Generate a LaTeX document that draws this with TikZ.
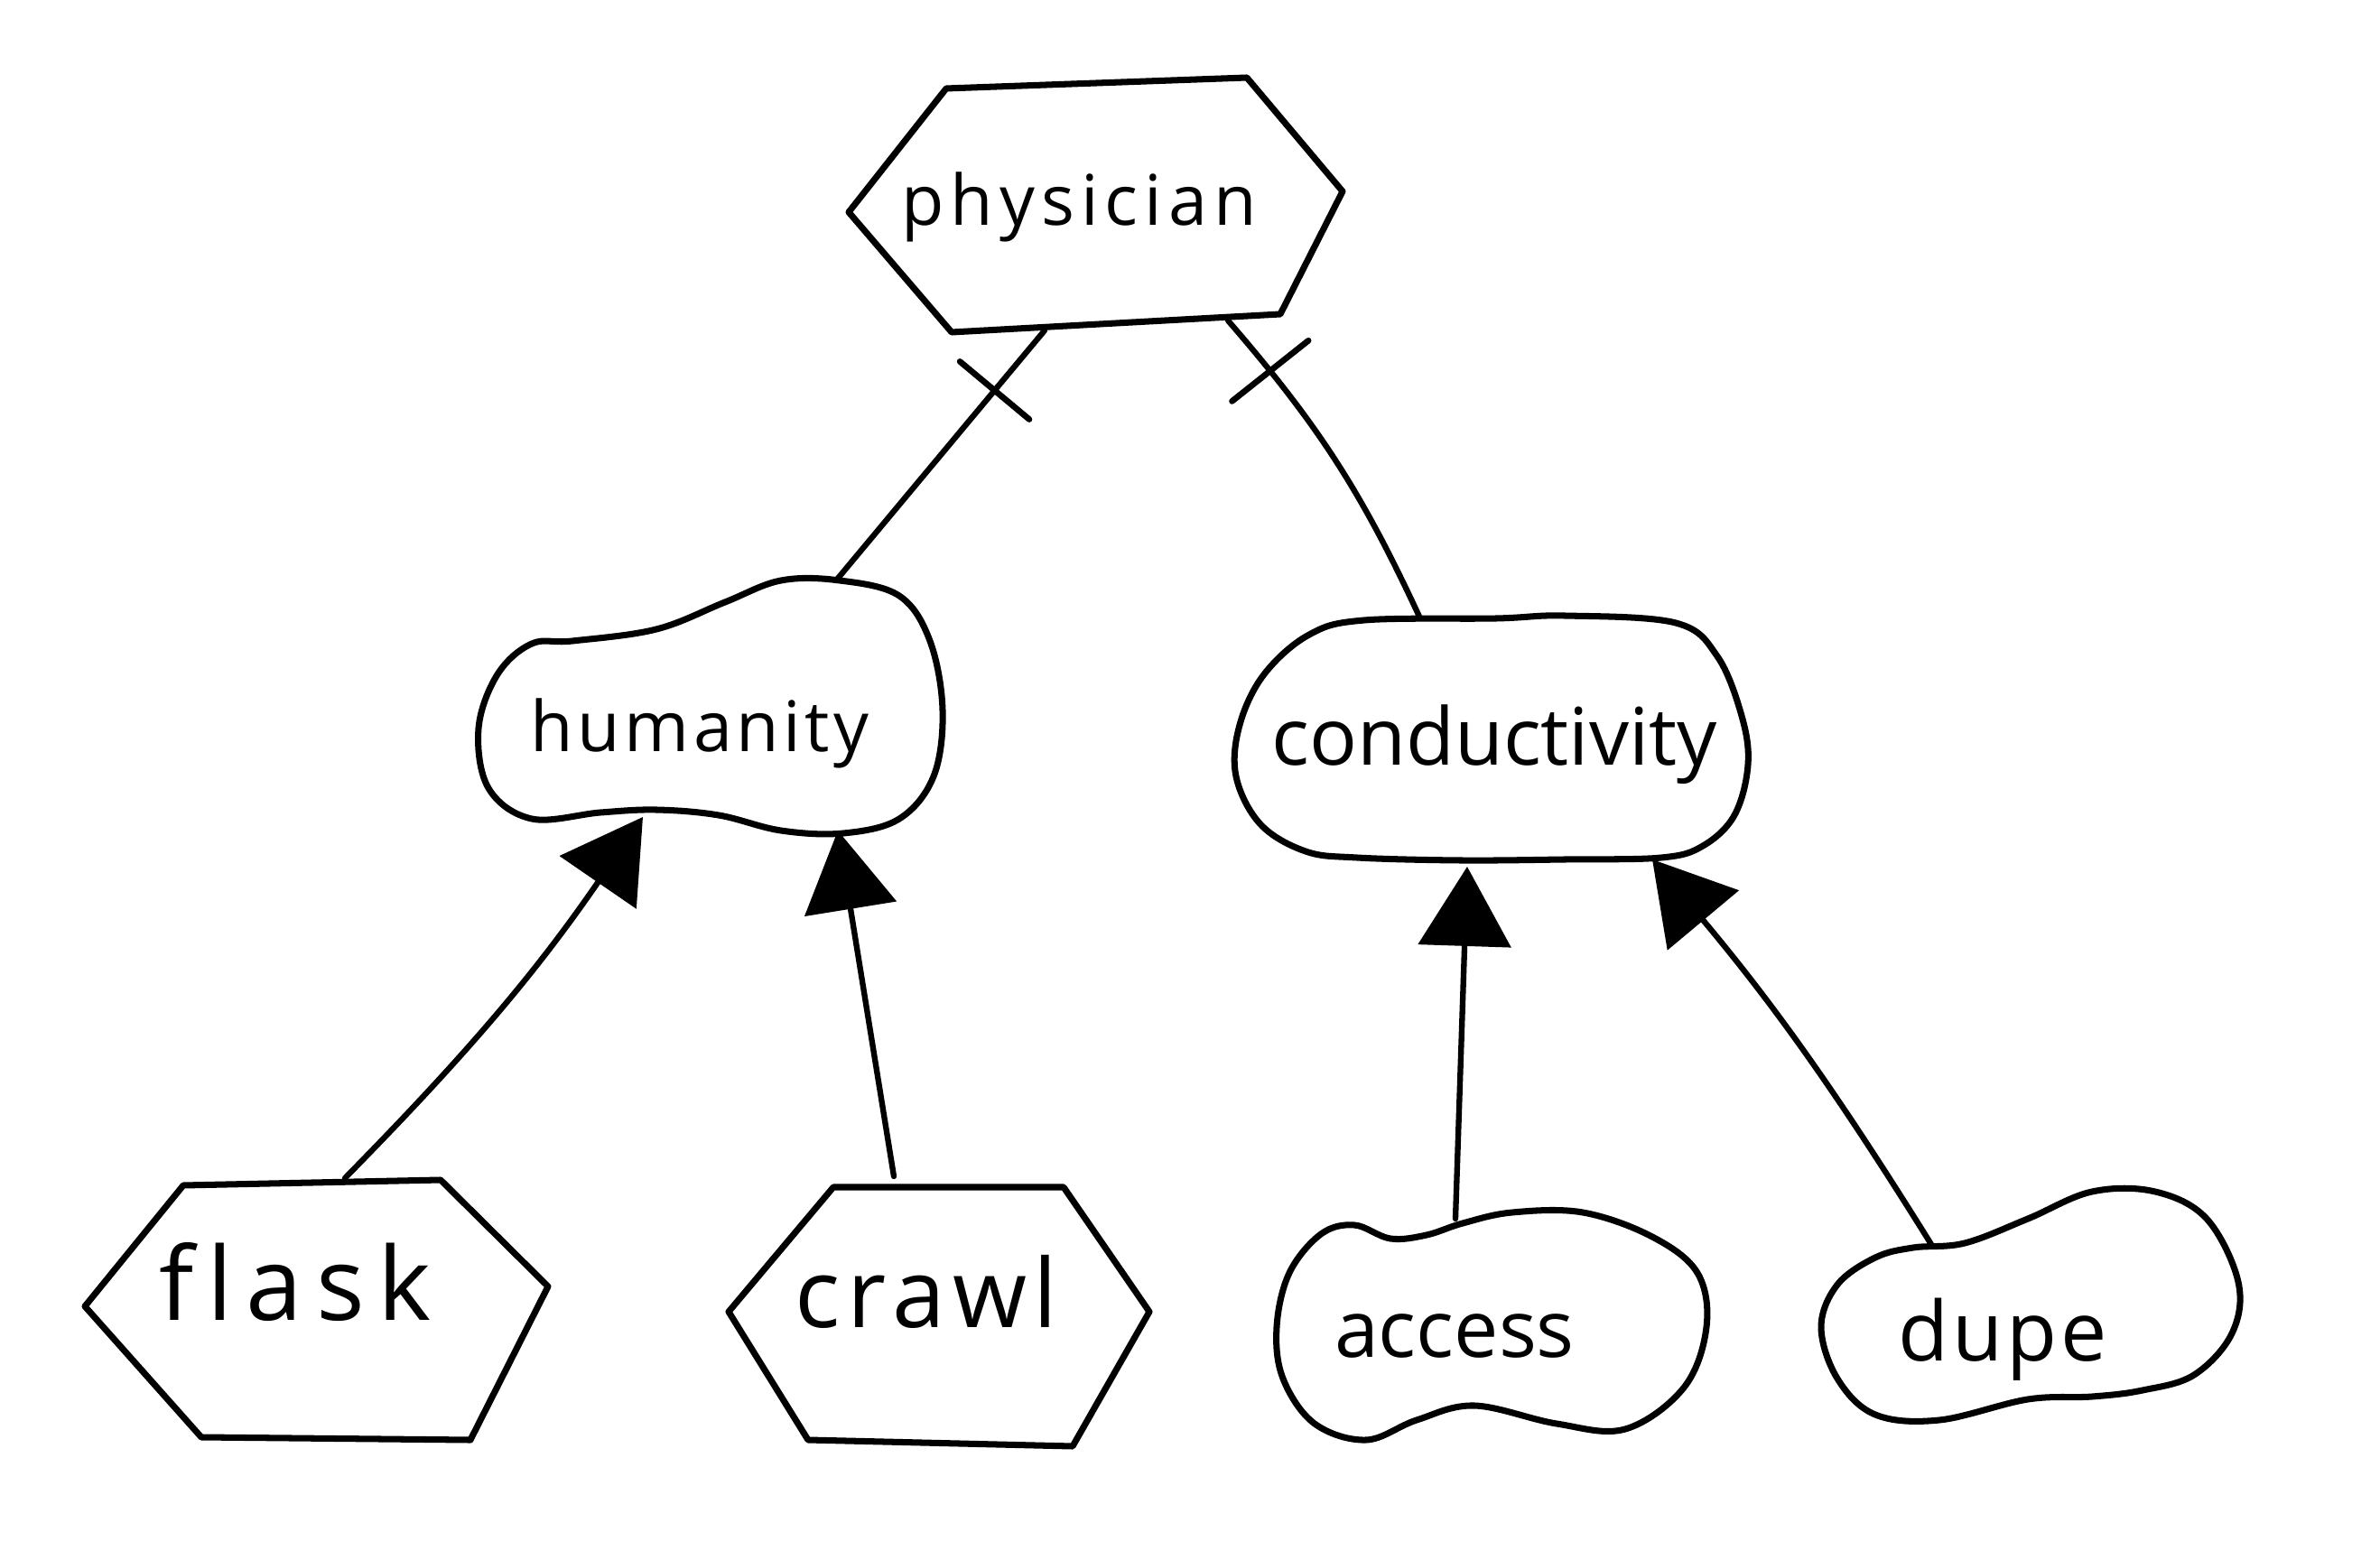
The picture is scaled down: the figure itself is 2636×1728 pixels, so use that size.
\documentclass[tikz,border=0pt]{standalone}
\usepackage{fontspec}
\setmainfont{Open Sans}
\usetikzlibrary{arrows.meta,calc}
\makeatletter
\newcommand\lsp[2]{\def\lsp@k{#1}\lsp@go#2\relax\unkern}
\def\lsp@go#1{\ifx#1\relax\else#1\kern\lsp@k\expandafter\lsp@go\fi}
\makeatother
\begin{document}
\begin{tikzpicture}[x=0.01cm,y=-0.01cm,
  outline/.style={line width=2pt, line join=round, line cap=round},
  lbl/.style={inner sep=0pt, anchor=base},
  link/.style={line width=1.8pt, line cap=round},
  isa/.style={link, -{Triangle[length=25pt,width=29pt]}},
  crossbar/.style={line width=1.9pt, line cap=round}]
\useasboundingbox[fill=white] (0,0) rectangle (2636,1728);

% ---- outlines ----
% physician (hexagon)
\draw[outline] (940,235) -- (1048,98) -- (1381,86) -- (1487,212) -- (1418,348) -- (1054,368) -- cycle;
% humanity (blob)
\draw[outline] plot[smooth cycle, tension=0.6] coordinates {
  (634,710) (589,713) (551,747) (530,807) (541,873) (589,907) (665,900)
  (727,897) (796,903) (865,920) (934,923) (996,907) (1034,860) (1044,787)
  (1030,710) (996,660) (930,643) (865,643) (803,667) (727,697)};
% conductivity (blob)
\draw[outline] plot[smooth cycle, tension=0.6] coordinates {
  (1511,687) (1657,685) (1733,682) (1856,690) (1902,727) (1929,793)
  (1936,847) (1921,903) (1886,937) (1840,950) (1733,952) (1618,953)
  (1503,950) (1446,943) (1396,913) (1369,860) (1373,803) (1400,747) (1450,703)};
% flask (hexagon)
\draw[outline] (94,1447) -- (203,1313) -- (488,1307) -- (607,1425) -- (521,1595) -- (223,1592) -- cycle;
% crawl (hexagon)
\draw[outline] (807,1453) -- (923,1315) -- (1178,1315) -- (1273,1453) -- (1188,1602) -- (895,1595) -- cycle;
% access (blob)
\draw[outline] plot[smooth cycle, tension=0.6] coordinates {
  (1463,1367) (1500,1357) (1540,1372) (1580,1368) (1620,1355) (1675,1343)
  (1753,1343) (1830,1370) (1880,1410) (1890,1470) (1865,1537) (1800,1583)
  (1724,1577) (1633,1557) (1569,1573) (1513,1595) (1456,1577) (1421,1527)
  (1414,1470) (1428,1410)};
% dupe (blob)
\draw[outline] plot[smooth cycle, tension=0.6] coordinates {
  (2119,1382) (2077,1393) (2035,1423) (2017,1470) (2035,1527) (2077,1567)
  (2148,1573) (2246,1550) (2317,1547) (2373,1540) (2430,1523) (2472,1477)
  (2479,1420) (2444,1350) (2387,1320) (2317,1320) (2246,1350) (2176,1377)};

% ---- labels ----
\node[lbl, font=\fontsize{22}{26}\selectfont] (physician) at (1195,250) {\lsp{0.7mm}{physician}};
\node[lbl, font=\fontsize{22}{26}\selectfont] (humanity) at (775,833) {\lsp{0.45mm}{humanity}};
\node[lbl, font=\fontsize{25}{30}\selectfont] (conductivity) at (1655,847) {conductivity};
\node[lbl, font=\fontsize{32}{38}\selectfont] (flask) at (327,1462) {\lsp{1.5mm}{flask}};
\node[lbl, font=\fontsize{30}{36}\selectfont] (crawl) at (1026,1470) {\lsp{0.75mm}{crawl}};
\node[lbl, font=\fontsize{25}{30}\selectfont] (access) at (1611,1503) {access};
\node[lbl, font=\fontsize{26}{31}\selectfont] (dupe) at (2218,1507) {\lsp{0.4mm}{dupe}};

% ---- connectors ----
\draw[link] ($(physician.base)+(-38,116)$) -- coordinate[pos=0.24] (c1) coordinate[pos=0.30] (d1)
  ($(humanity.base)+(151,-190)$);
\draw[crossbar] ($(c1)!0.5cm!90:(d1)$) -- ($(c1)!0.5cm!-90:(d1)$);

\draw[link] ($(physician.base)+(165,105)$) to[bend left=8] coordinate[pos=0.17] (c2) coordinate[pos=0.23] (d2)
  ($(conductivity.base)+(-83,-164)$);
\draw[crossbar] ($(c2)!0.54cm!90:(d2)$) -- ($(c2)!0.54cm!-90:(d2)$);

\draw[isa] ($(flask.base)+(55,-157)$) to[bend right=5] ($(humanity.base)+(-63,72)$);
\draw[isa] ($(crawl.base)+(-36,-167)$) -- ($(humanity.base)+(153,87)$);
\draw[isa] ($(access.base)+(1,-153)$) -- ($(conductivity.base)+(-30,113)$);
\draw[isa] ($(dupe.base)+(-78,-127)$) to[bend right=4] ($(conductivity.base)+(175,105)$);
\end{tikzpicture}
\end{document}
